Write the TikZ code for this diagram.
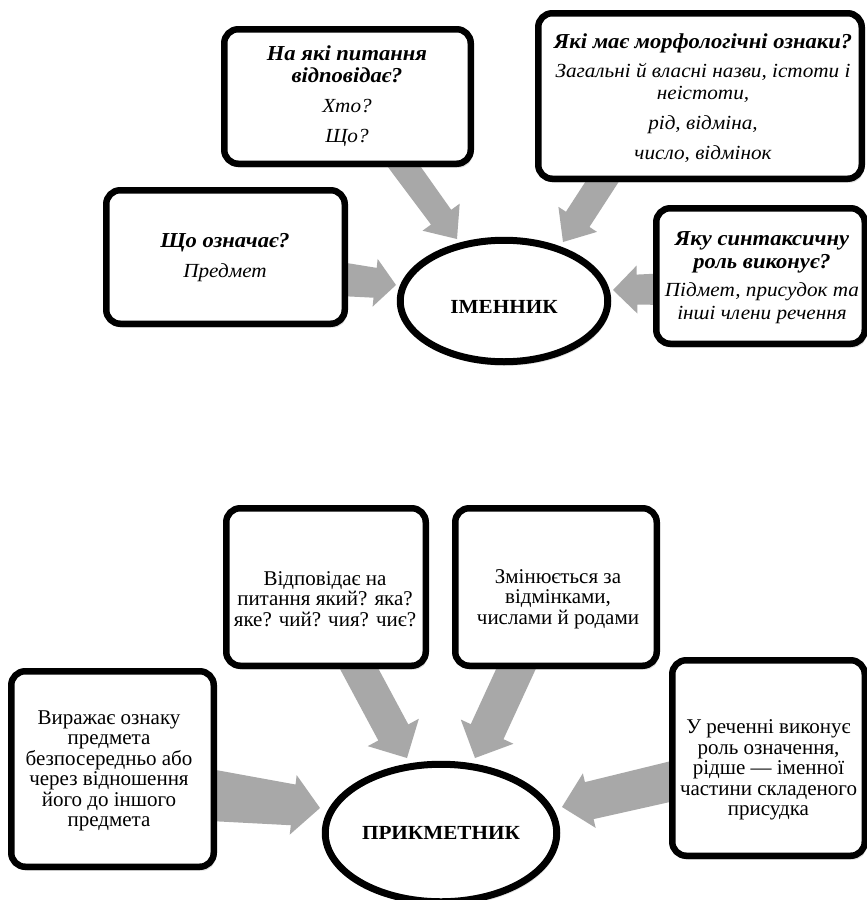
\documentclass[tikz,border=0pt]{standalone}
\usepackage{fontspec}
\setmainfont{Liberation Serif}
\newfontfamily\topfont{Liberation Serif}[FakeStretch=1.06]
\usetikzlibrary{shapes.geometric,calc,shadows}
\definecolor{arrowgray}{RGB}{168,168,168}
\newcommand\blockarrow[6]{%
  \coordinate (bneck) at ($(#2)!#6!(#1)$);
  \fill[arrowgray] ($(#1)!#3!90:(#2)$) -- ($(bneck)!#4!90:(#2)$) -- ($(bneck)!#5!90:(#2)$) -- (#2)
    -- ($(bneck)!#5!-90:(#2)$) -- ($(bneck)!#4!-90:(#2)$) -- ($(#1)!#3!-90:(#2)$) -- cycle;}
\newcommand\hd[1]{{\fontsize{21.3}{22.5}\selectfont\bfseries #1}}
\tikzset{
  box/.style={draw=black, line width=6.5pt, rounded corners=14pt, fill=white,
    drop shadow={opacity=0.25, shadow xshift=2pt, shadow yshift=-4pt}},
  oval/.style={ellipse, draw=black, line width=7pt, fill=white, inner sep=0pt,
    font=\topfont\fontsize{20}{22}\selectfont\bfseries,
    drop shadow={opacity=0.25, shadow xshift=2pt, shadow yshift=-4pt}},
  toptxt/.style={align=center, font=\topfont\fontsize{20}{22.5}\selectfont\itshape, inner sep=0pt},
  bottxt/.style={align=center, font=\fontsize{21}{20.5}\selectfont, inner sep=0pt}
}
\begin{document}
\begin{tikzpicture}[x=1pt,y=-1pt]
\useasboundingbox (0,0) rectangle (867,900);
\fill[white] (0,0) rectangle (867,900);
% arrow coordinates
\coordinate (aS) at (398,158);   \coordinate (aT) at (457,239);
\coordinate (bS) at (617.5,158); \coordinate (bT) at (563,242);
\coordinate (cS) at (330,278);   \coordinate (cT) at (396,285);
\coordinate (dS) at (670,289);   \coordinate (dT) at (613,290);
\coordinate (eS) at (355,661);   \coordinate (eT) at (407,758);
\coordinate (fS) at (521,658);   \coordinate (fT) at (475,758);
\coordinate (gS) at (200,794);   \coordinate (gT) at (320,808);
\coordinate (hS) at (690,777);   \coordinate (hT) at (562,807);
\blockarrow{aS}{aT}{13.5pt}{12.5pt}{23pt}{27pt}
\blockarrow{bS}{bT}{14pt}{14pt}{23pt}{27pt}
\blockarrow{cS}{cT}{17.5pt}{15pt}{24pt}{21pt}
\blockarrow{dS}{dT}{16pt}{15pt}{24pt}{24pt}
\blockarrow{eS}{eT}{17pt}{17pt}{29pt}{29pt}
\blockarrow{fS}{fT}{18pt}{18pt}{29pt}{29pt}
\blockarrow{gS}{gT}{26.5pt}{20.5pt}{30pt}{27pt}
\blockarrow{hS}{hT}{20pt}{19pt}{28pt}{28pt}
% top diagram
\node[box, minimum width=246.5pt, minimum height=134.5pt] (A) at (347.5,96.5) {};
\node[box, minimum width=323.5pt, minimum height=165.5pt] (B) at (700,96) {};
\node[box, minimum width=238.5pt, minimum height=133.5pt] (C) at (225.5,257) {};
\node[box, minimum width=208.5pt, minimum height=135.5pt] (D) at (760.5,276) {};
\node[oval, minimum width=207.5pt, minimum height=121.5pt, text height=25pt] (N) at (504,301) {ІМЕННИК};
\node[toptxt] (Atxt) at (347,96) {\hd{На які питання}\\ \hd{відповідає?}\\[7.5pt] Хто?\\[7.5pt] Що?};
\node[toptxt] (Btxt) at (703,98.5) {\hd{Які має морфологічні ознаки?}\\[6pt] Загальні й власні назви, істоти і\\ неістоти,\\[7pt] рід, відміна,\\[8pt] число, відмінок};
\node[toptxt] (Ctxt) at (225,257.5) {\hd{Що означає?}\\[8pt] Предмет};
\node[toptxt] (Dtxt) at (762,277.5) {\hd{Яку синтаксичну}\\ \hd{роль виконує?}\\[6pt] Підмет, присудок та\\ інші члени речення};
% bottom diagram
\node[box, minimum width=199.5pt, minimum height=157.5pt] (E) at (326,587) {};
\node[box, minimum width=201.5pt, minimum height=157.5pt] (F) at (556,587) {};
\node[box, minimum width=202.5pt, minimum height=195.5pt] (G) at (112.5,769) {};
\node[box, minimum width=192.5pt, minimum height=195.5pt] (H) at (768.5,758) {};
\node[oval, minimum width=231.5pt, minimum height=137.5pt] (P) at (441,833) {ПРИКМЕТНИК};
\node[bottxt] (Etxt) at (325,599) {Відповідає на\\ питання який? яка?\\ яке? чий? чия? чиє?};
\node[bottxt] (Ftxt) at (558,599) {Змінюється за\\ відмінками,\\ числами й родами};
\node[bottxt] (Gtxt) at (109,771) {Виражає ознаку\\ предмета\\ безпосередньо або\\ через відношення\\ його до іншого\\ предмета};
\node[bottxt] (Htxt) at (768.5,770) {У реченні виконує\\ роль означення,\\ рідше — іменної\\ частини складеного\\ присудка};
\end{tikzpicture}
\end{document}
